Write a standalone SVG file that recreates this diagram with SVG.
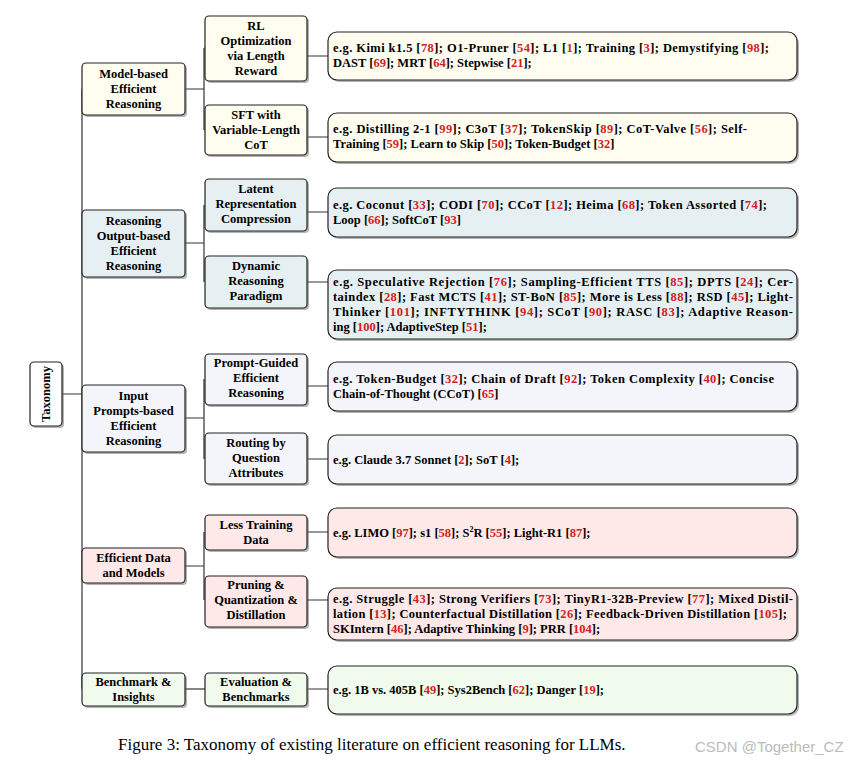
<svg xmlns="http://www.w3.org/2000/svg" width="854" height="764" viewBox="0 0 854 764">
<style>
text{font-family:"Liberation Serif",serif;font-weight:bold;font-size:12.5px;fill:#000}
.c{text-anchor:middle}
.r{fill:#d42020}
.b{stroke:#222;stroke-width:1.2}
.s{fill:#777;opacity:.55}
.y{fill:#fffdf0}.u{fill:#e6f0f2}.l{fill:#f4f4fb}.p{fill:#ffe8e8}.g{fill:#f0fbee}
.ln{stroke:#333;stroke-width:1.2;fill:none}
</style>
<rect width="854" height="764" fill="#fff"/>
<g id="connectors" class="ln">
<path d="M62 394H82M82 89V689"/>
<path d="M82 89H82M82 243H82M82 418H82M82 566H82"/>
<path d="M185 89H204M204 48V130M204 48H205M204 130H205"/>
<path d="M185 243H204M204 205V282"/>
<path d="M185 418H204M204 379V459"/>
<path d="M185 566H204M204 532V600"/>
<path d="M185 689H205"/>
<path d="M307 56H328M307 137H328M307 212H328M307 282H328M307 386H328M307 459H328M307 532H328M307 600H328M307 689H328"/>
</g>
<g id="root"><rect class="s" x="32" y="364" width="32" height="64" rx="4"/><rect class="b" x="30" y="362" width="32" height="64" rx="4" fill="#fff"/><text class="c" transform="translate(50 394) rotate(-90)">Taxonomy</text></g>
<g id="l1-model"><rect class="s" x="84" y="65" width="103" height="52" rx="4"/><rect class="b y" x="82" y="63" width="103" height="52" rx="4"/><text class="c" x="133.5" y="78">Model-based</text><text class="c" x="133.5" y="93">Efficient</text><text class="c" x="133.5" y="108">Reasoning</text></g>
<g id="l1-output"><rect class="s" x="84" y="212" width="103" height="67" rx="4"/><rect class="b u" x="82" y="210" width="103" height="67" rx="4"/><text class="c" x="133.5" y="225">Reasoning</text><text class="c" x="133.5" y="240">Output-based</text><text class="c" x="133.5" y="255">Efficient</text><text class="c" x="133.5" y="270">Reasoning</text></g>
<g id="l1-input"><rect class="s" x="84" y="387" width="103" height="67" rx="4"/><rect class="b l" x="82" y="385" width="103" height="67" rx="4"/><text class="c" x="133.5" y="400">Input</text><text class="c" x="133.5" y="415">Prompts-based</text><text class="c" x="133.5" y="430">Efficient</text><text class="c" x="133.5" y="445">Reasoning</text></g>
<g id="l1-data"><rect class="s" x="84" y="550" width="103" height="35" rx="4"/><rect class="b p" x="82" y="548" width="103" height="35" rx="4"/><text class="c" x="133.5" y="562">Efficient Data</text><text class="c" x="133.5" y="577">and Models</text></g>
<g id="l1-bench"><rect class="s" x="84" y="675" width="103" height="33" rx="4"/><rect class="b g" x="82" y="673" width="103" height="33" rx="4"/><text class="c" x="133.5" y="686">Benchmark &amp;</text><text class="c" x="133.5" y="701">Insights</text></g>

<g id="l2-rl"><rect class="s" x="207" y="18" width="102" height="65" rx="4"/><rect class="b y" x="205" y="16" width="102" height="65" rx="4"/><text class="c" x="256" y="30">RL</text><text class="c" x="256" y="45">Optimization</text><text class="c" x="256" y="60">via Length</text><text class="c" x="256" y="75">Reward</text></g>
<g id="l2-sft"><rect class="s" x="207" y="107" width="102" height="50" rx="4"/><rect class="b y" x="205" y="105" width="102" height="50" rx="4"/><text class="c" x="256" y="119">SFT with</text><text class="c" x="256" y="134">Variable-Length</text><text class="c" x="256" y="149">CoT</text></g>
<g id="l2-latent"><rect class="s" x="207" y="181" width="102" height="52" rx="4"/><rect class="b u" x="205" y="179" width="102" height="52" rx="4"/><text class="c" x="256" y="193">Latent</text><text class="c" x="256" y="208">Representation</text><text class="c" x="256" y="223">Compression</text></g>
<g id="l2-dynamic"><rect class="s" x="207" y="258" width="102" height="52" rx="4"/><rect class="b u" x="205" y="256" width="102" height="52" rx="4"/><text class="c" x="256" y="270">Dynamic</text><text class="c" x="256" y="285">Reasoning</text><text class="c" x="256" y="300">Paradigm</text></g>
<g id="l2-prompt"><rect class="s" x="207" y="356" width="102" height="51" rx="4"/><rect class="b l" x="205" y="354" width="102" height="51" rx="4"/><text class="c" x="256" y="367">Prompt-Guided</text><text class="c" x="256" y="382">Efficient</text><text class="c" x="256" y="397">Reasoning</text></g>
<g id="l2-routing"><rect class="s" x="207" y="435" width="102" height="51" rx="4"/><rect class="b l" x="205" y="433" width="102" height="51" rx="4"/><text class="c" x="256" y="447">Routing by</text><text class="c" x="256" y="462">Question</text><text class="c" x="256" y="477">Attributes</text></g>
<g id="l2-less"><rect class="s" x="207" y="517" width="102" height="35" rx="4"/><rect class="b p" x="205" y="515" width="102" height="35" rx="4"/><text class="c" x="256" y="529">Less Training</text><text class="c" x="256" y="544">Data</text></g>
<g id="l2-prune"><rect class="s" x="207" y="578" width="102" height="51" rx="4"/><rect class="b p" x="205" y="576" width="102" height="51" rx="4"/><text class="c" x="256" y="589">Pruning &amp;</text><text class="c" x="256" y="604">Quantization &amp;</text><text class="c" x="256" y="619">Distillation</text></g>
<g id="l2-eval"><rect class="s" x="207" y="675" width="102" height="33" rx="4"/><rect class="b g" x="205" y="673" width="102" height="33" rx="4"/><text class="c" x="256" y="686">Evaluation &amp;</text><text class="c" x="256" y="701">Benchmarks</text></g>

<g id="leaf1"><rect class="s" x="330" y="34" width="469" height="48" rx="9"/><rect class="b y" x="328" y="32" width="469" height="48" rx="9"/>
<text x="333" y="52" textLength="436" lengthAdjust="spacing">e.g.  Kimi k1.5 [<tspan class="r">78</tspan>]; O1-Pruner [<tspan class="r">54</tspan>]; L1 [<tspan class="r">1</tspan>]; Training [<tspan class="r">3</tspan>]; Demystifying [<tspan class="r">98</tspan>];</text>
<text x="333" y="67">DAST [<tspan class="r">69</tspan>]; MRT [<tspan class="r">64</tspan>]; Stepwise [<tspan class="r">21</tspan>];</text></g>
<g id="leaf2"><rect class="s" x="330" y="115" width="469" height="49" rx="9"/><rect class="b y" x="328" y="113" width="469" height="49" rx="9"/>
<text x="333" y="133" textLength="414" lengthAdjust="spacing">e.g.  Distilling 2-1 [<tspan class="r">99</tspan>]; C3oT [<tspan class="r">37</tspan>]; TokenSkip [<tspan class="r">89</tspan>]; CoT-Valve [<tspan class="r">56</tspan>]; Self-</text>
<text x="333" y="148">Training [<tspan class="r">59</tspan>]; Learn to Skip [<tspan class="r">50</tspan>]; Token-Budget [<tspan class="r">32</tspan>]</text></g>
<g id="leaf3"><rect class="s" x="330" y="190" width="469" height="49" rx="9"/><rect class="b u" x="328" y="188" width="469" height="49" rx="9"/>
<text x="333" y="209" textLength="434" lengthAdjust="spacing">e.g.  Coconut [<tspan class="r">33</tspan>]; CODI [<tspan class="r">70</tspan>]; CCoT [<tspan class="r">12</tspan>]; Heima [<tspan class="r">68</tspan>]; Token Assorted [<tspan class="r">74</tspan>];</text>
<text x="333" y="224">Loop [<tspan class="r">66</tspan>]; SoftCoT [<tspan class="r">93</tspan>]</text></g>
<g id="leaf4"><rect class="s" x="330" y="272" width="469" height="69" rx="9"/><rect class="b u" x="328" y="270" width="469" height="69" rx="9"/>
<text x="333" y="286" textLength="460" lengthAdjust="spacing">e.g.  Speculative Rejection [<tspan class="r">76</tspan>]; Sampling-Efficient TTS [<tspan class="r">85</tspan>]; DPTS [<tspan class="r">24</tspan>]; Cer-</text>
<text x="333" y="301" textLength="460" lengthAdjust="spacing">taindex [<tspan class="r">28</tspan>]; Fast MCTS [<tspan class="r">41</tspan>]; ST-BoN [<tspan class="r">85</tspan>]; More is Less [<tspan class="r">88</tspan>]; RSD [<tspan class="r">45</tspan>]; Light-</text>
<text x="333" y="316" textLength="460" lengthAdjust="spacing">Thinker [<tspan class="r">101</tspan>]; INFTYTHINK [<tspan class="r">94</tspan>]; SCoT [<tspan class="r">90</tspan>]; RASC [<tspan class="r">83</tspan>]; Adaptive Reason-</text>
<text x="333" y="331">ing [<tspan class="r">100</tspan>]; AdaptiveStep [<tspan class="r">51</tspan>];</text></g>
<g id="leaf5"><rect class="s" x="330" y="364" width="469" height="49" rx="9"/><rect class="b l" x="328" y="362" width="469" height="49" rx="9"/>
<text x="333" y="383" textLength="441" lengthAdjust="spacing">e.g.  Token-Budget [<tspan class="r">32</tspan>]; Chain of Draft [<tspan class="r">92</tspan>]; Token Complexity [<tspan class="r">40</tspan>]; Concise</text>
<text x="333" y="398">Chain-of-Thought (CCoT) [<tspan class="r">65</tspan>]</text></g>
<g id="leaf6"><rect class="s" x="330" y="437" width="469" height="49" rx="9"/><rect class="b l" x="328" y="435" width="469" height="49" rx="9"/>
<text x="333" y="464">e.g.  Claude 3.7 Sonnet [<tspan class="r">2</tspan>]; SoT [<tspan class="r">4</tspan>];</text></g>
<g id="leaf7"><rect class="s" x="330" y="510" width="469" height="49" rx="9"/><rect class="b p" x="328" y="508" width="469" height="49" rx="9"/>
<text x="333" y="537">e.g.  LIMO [<tspan class="r">97</tspan>]; s1 [<tspan class="r">58</tspan>]; S<tspan font-size="8" dy="-5">2</tspan><tspan dy="5">R [</tspan><tspan class="r">55</tspan>]; Light-R1 [<tspan class="r">87</tspan>];</text></g>
<g id="leaf8"><rect class="s" x="330" y="590" width="469" height="52" rx="9"/><rect class="b p" x="328" y="588" width="469" height="52" rx="9"/>
<text x="333" y="603" textLength="460" lengthAdjust="spacing">e.g.  Struggle [<tspan class="r">43</tspan>]; Strong Verifiers [<tspan class="r">73</tspan>]; TinyR1-32B-Preview [<tspan class="r">77</tspan>]; Mixed Distil-</text>
<text x="333" y="618" textLength="454" lengthAdjust="spacing">lation [<tspan class="r">13</tspan>]; Counterfactual Distillation [<tspan class="r">26</tspan>]; Feedback-Driven Distillation [<tspan class="r">105</tspan>];</text>
<text x="333" y="633">SKIntern [<tspan class="r">46</tspan>]; Adaptive Thinking [<tspan class="r">9</tspan>]; PRR [<tspan class="r">104</tspan>];</text></g>
<g id="leaf9"><rect class="s" x="330" y="668" width="469" height="48" rx="9"/><rect class="b g" x="328" y="666" width="469" height="48" rx="9"/>
<text x="333" y="694">e.g.  1B vs.  405B [<tspan class="r">49</tspan>]; Sys2Bench [<tspan class="r">62</tspan>]; Danger [<tspan class="r">19</tspan>];</text></g>

<text x="118" y="750" style="font-weight:normal;font-size:17px">Figure 3:  Taxonomy of existing literature on efficient reasoning for LLMs.</text>
<text x="695" y="752" style="font-family:'Liberation Sans',sans-serif;font-weight:normal;font-size:15px;fill:#bbb">CSDN @Together_CZ</text>
</svg>
